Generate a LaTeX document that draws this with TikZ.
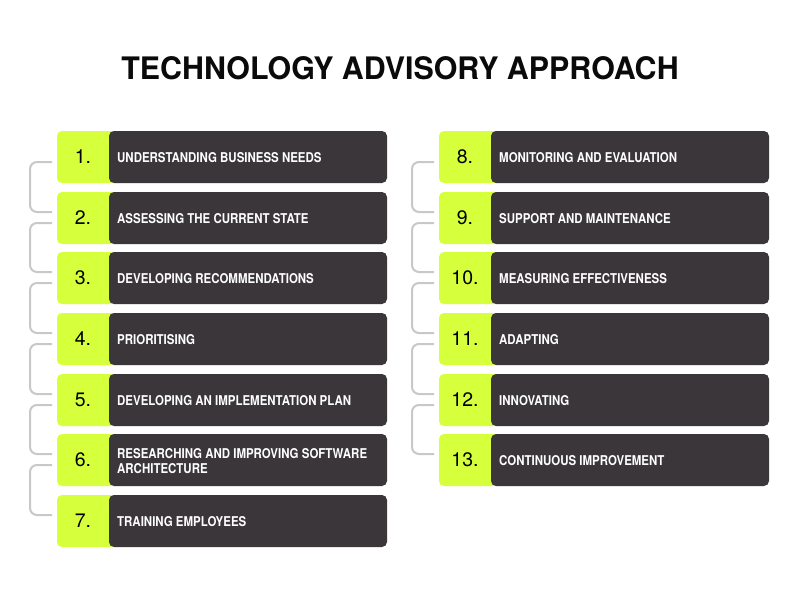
\documentclass[tikz,border=0pt]{standalone}
\usepackage{fontspec}
\setmainfont{TeX Gyre Heros}
\newfontfamily\titlefont[FakeStretch=0.98]{TeX Gyre Heros}
\newfontfamily\labelfont[FakeStretch=0.85]{TeX Gyre Heros}
\definecolor{lime}{HTML}{D6FF3C}
\definecolor{darkbox}{HTML}{3A3639}
\definecolor{linkgray}{HTML}{C8C8C8}
\definecolor{titleink}{HTML}{0A0A0A}
\tikzset{
  x=1pt, y=-1pt,
  numcell/.style={fill=lime, rounded corners=5pt},
  bodycell/.style={fill=darkbox, rounded corners=5pt},
  numtext/.style={font=\fontsize{19.5}{19.5}\selectfont, text=black, anchor=center},
  labtext/.style={font=\labelfont\bfseries\fontsize{13.5}{15}\selectfont, text=white, anchor=west, align=left},
  link/.style={draw=linkgray, line width=2pt, rounded corners=7pt},
}
\newcommand{\stepitem}[5]{% name, x, yc, number, label
  \fill[numcell] (#2,#3-26) rectangle (#2+60,#3+26);
  \fill[bodycell] (#2+52,#3-26) rectangle (#2+330,#3+26);
  \fill[fill=lime] (#2+45,#3-26) rectangle (#2+52,#3+26);
  \node[numtext] (#1n) at (#2+26,#3) {#4};
  \node[labtext, inner sep=0pt] (#1t) at (#2+60,#3+0.8) {#5};
  \coordinate (#1a) at (#2-5,#3+5);
  \coordinate (#1b) at (#2-5,#3-6);
}
\begin{document}
\begin{tikzpicture}
\useasboundingbox[fill=white] (0,0) rectangle (800,600);
\node[font=\titlefont\bfseries\fontsize{31}{31}\selectfont, text=titleink] (title) at (400,68) {TECHNOLOGY ADVISORY APPROACH};
\stepitem{s1}{57}{157}{1.}{UNDERSTANDING BUSINESS NEEDS}
\stepitem{s2}{57}{218}{2.}{ASSESSING THE CURRENT STATE}
\stepitem{s3}{57}{278}{3.}{DEVELOPING RECOMMENDATIONS}
\stepitem{s4}{57}{339}{4.}{PRIORITISING}
\stepitem{s5}{57}{400}{5.}{DEVELOPING AN IMPLEMENTATION PLAN}
\stepitem{s6}{57}{460}{6.}{RESEARCHING AND IMPROVING SOFTWARE\\ARCHITECTURE}
\stepitem{s7}{57}{521}{7.}{TRAINING EMPLOYEES}
\stepitem{s8}{439}{157}{8.}{MONITORING AND EVALUATION}
\stepitem{s9}{439}{218}{9.}{SUPPORT AND MAINTENANCE}
\stepitem{s10}{439}{278}{10.}{MEASURING EFFECTIVENESS}
\stepitem{s11}{439}{339}{11.}{ADAPTING}
\stepitem{s12}{439}{400}{12.}{INNOVATING}
\stepitem{s13}{439}{460}{13.}{CONTINUOUS IMPROVEMENT}
\foreach \u/\v in {s1/s2,s2/s3,s3/s4,s4/s5,s5/s6,s6/s7,s8/s9,s9/s10,s10/s11,s11/s12,s12/s13}{
  \draw[link] (\u a) -- ++(-22,0) |- (\v b);
}
\end{tikzpicture}
\end{document}
